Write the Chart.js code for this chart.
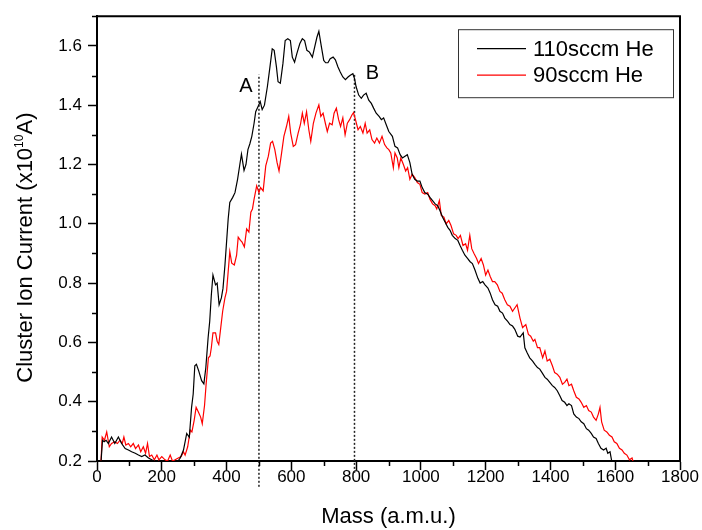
<!DOCTYPE html>
<html>
<head>
<meta charset="utf-8">
<script src="https://cdn.jsdelivr.net/npm/chart.js@4/dist/chart.umd.min.js"></script>
<style>
    body { margin: 0; background: #ffffff; }
    canvas { display: block; }
</style>
</head>
<body>
<canvas id="ion_chart" width="702" height="530"></canvas>
<script>
var massHigh = [12, 17, 22, 28, 35, 45, 55, 66, 76, 87, 97, 107, 118, 128, 138, 148, 159, 169, 180, 195,
    210, 225, 240, 250, 257, 267, 277, 285, 292, 297, 302, 307, 314, 323, 330, 336, 343, 348, 353, 358,
    366, 371, 377, 384, 389, 395, 400, 405, 410, 419, 426, 434, 441, 446, 454, 460, 466, 472, 478, 485,
    490, 497, 504, 510, 517, 526, 534, 541, 547, 554, 559, 566, 574, 581, 589, 597, 603, 610, 617, 626,
    634, 641, 648, 656, 665, 672, 679, 685, 693, 700, 706, 713, 720, 729, 736, 744, 751, 759, 767, 775,
    782, 790, 795, 800, 808, 816, 823, 831, 839, 847, 854, 862, 871, 878, 885, 893, 901, 912, 920, 928,
    936, 943, 951, 958, 966, 973, 981, 989, 997, 1004, 1012, 1021, 1028, 1036, 1044, 1052, 1059, 1067, 1075, 1083,
    1090, 1097, 1106, 1114, 1121, 1128, 1136, 1144, 1152, 1159, 1167, 1176, 1183, 1191, 1198, 1207, 1214, 1221, 1229, 1237,
    1244, 1252, 1259, 1268, 1275, 1283, 1290, 1299, 1306, 1316, 1321, 1328, 1336, 1345, 1352, 1360, 1367, 1374, 1383, 1390,
    1398, 1406, 1413, 1421, 1429, 1436, 1444, 1451, 1457, 1465, 1472, 1480, 1488, 1495, 1503, 1511, 1518, 1526, 1533, 1541,
    1548, 1556, 1564, 1572, 1577, 1584, 1590];
var ionHigh = [0.19, 0.27, 0.265, 0.27, 0.259, 0.281, 0.259, 0.281, 0.259, 0.242, 0.237, 0.231, 0.226, 0.22, 0.215, 0.22, 0.21, 0.204, 0.198, 0.196,
    0.198, 0.195, 0.197, 0.2, 0.21, 0.237, 0.293, 0.28, 0.381, 0.426, 0.521, 0.526, 0.504, 0.471, 0.46, 0.515, 0.615, 0.671, 0.76, 0.827,
    0.794, 0.8, 0.727, 0.75, 0.782, 0.86, 0.938, 1.016, 1.072, 1.089, 1.105, 1.15, 1.2, 1.235, 1.18, 1.2, 1.25, 1.27, 1.295, 1.339,
    1.378, 1.395, 1.412, 1.385, 1.4, 1.462, 1.529, 1.59, 1.585, 1.529, 1.479, 1.474, 1.54, 1.618, 1.624, 1.618, 1.562, 1.545, 1.574, 1.607,
    1.624, 1.618, 1.585, 1.579, 1.562, 1.596, 1.629, 1.649, 1.596, 1.551, 1.543, 1.543, 1.557, 1.562, 1.553, 1.529, 1.512, 1.495, 1.486, 1.495,
    1.501, 1.506, 1.49, 1.462, 1.434, 1.423, 1.434, 1.44, 1.417, 1.406, 1.39, 1.373, 1.362, 1.351, 1.357, 1.334, 1.311, 1.295, 1.261, 1.256,
    1.233, 1.222, 1.228, 1.233, 1.206, 1.167, 1.15, 1.144, 1.144, 1.122, 1.105, 1.1, 1.089, 1.078, 1.067, 1.061, 1.044, 1.022, 1.005, 0.988,
    0.978, 0.961, 0.95, 0.944, 0.927, 0.911, 0.894, 0.883, 0.872, 0.866, 0.844, 0.816, 0.8, 0.805, 0.794, 0.783, 0.766, 0.744, 0.727, 0.722,
    0.705, 0.699, 0.682, 0.671, 0.66, 0.655, 0.644, 0.621, 0.618, 0.632, 0.582, 0.565, 0.548, 0.537, 0.526, 0.515, 0.51, 0.498, 0.482, 0.476,
    0.465, 0.454, 0.448, 0.437, 0.42, 0.404, 0.398, 0.387, 0.393, 0.387, 0.359, 0.348, 0.343, 0.332, 0.326, 0.309, 0.304, 0.293, 0.281, 0.276,
    0.259, 0.243, 0.237, 0.243, 0.226, 0.231, 0.195];

var massLow = [12, 16, 23, 30, 38, 45, 55, 63, 71, 78, 83, 89, 97, 104, 112, 119, 128, 135, 143, 150,
    156, 162, 169, 177, 185, 191, 200, 210, 218, 226, 233, 241, 251, 260, 267, 272, 280, 288, 293, 300,
    306, 313, 320, 325, 332, 337, 344, 349, 353, 358, 366, 371, 376, 382, 388, 395, 400, 405, 410, 416,
    424, 431, 436, 443, 448, 455, 462, 469, 475, 480, 485, 493, 500, 505, 513, 521, 529, 536, 542, 549,
    556, 562, 570, 577, 585, 592, 598, 606, 613, 621, 628, 634, 640, 647, 654, 660, 668, 676, 685, 691,
    698, 705, 711, 718, 726, 732, 739, 746, 752, 759, 766, 773, 780, 787, 792, 798, 806, 813, 821, 828,
    834, 842, 849, 857, 864, 872, 880, 888, 895, 901, 907, 915, 920, 927, 932, 938, 946, 953, 959, 966,
    973, 981, 989, 997, 1004, 1012, 1021, 1028, 1036, 1044, 1049, 1057, 1063, 1071, 1078, 1086, 1093, 1101, 1109, 1115,
    1122, 1130, 1138, 1144, 1151, 1157, 1164, 1172, 1178, 1186, 1193, 1200, 1207, 1214, 1221, 1228, 1236, 1244, 1251, 1259,
    1267, 1275, 1283, 1290, 1297, 1306, 1314, 1324, 1332, 1339, 1347, 1352, 1360, 1367, 1376, 1383, 1390, 1398, 1406, 1413,
    1421, 1429, 1437, 1444, 1451, 1457, 1465, 1472, 1480, 1488, 1495, 1503, 1511, 1518, 1526, 1533, 1541, 1548, 1553, 1558,
    1566, 1574, 1582, 1590, 1597, 1605, 1613, 1621, 1628, 1636, 1644, 1652, 1656];
var ionLow = [0.19, 0.281, 0.27, 0.298, 0.248, 0.259, 0.265, 0.259, 0.27, 0.259, 0.281, 0.254, 0.259, 0.248, 0.259, 0.242, 0.254, 0.231, 0.248, 0.226,
    0.259, 0.215, 0.22, 0.204, 0.22, 0.204, 0.215, 0.204, 0.2, 0.22, 0.2, 0.204, 0.21, 0.215, 0.231, 0.22, 0.248, 0.304, 0.298, 0.337,
    0.381, 0.365, 0.348, 0.326, 0.387, 0.46, 0.548, 0.554, 0.582, 0.632, 0.632, 0.604, 0.593, 0.649, 0.705, 0.75, 0.772, 0.838, 0.906, 0.867,
    0.861, 0.894, 0.955, 0.944, 0.938, 0.922, 0.983, 0.972, 1.039, 1.05, 1.083, 1.128, 1.105, 1.122, 1.111, 1.195, 1.228, 1.272, 1.278, 1.25,
    1.206, 1.178, 1.239, 1.295, 1.328, 1.362, 1.306, 1.261, 1.267, 1.306, 1.334, 1.373, 1.339, 1.378, 1.317, 1.278, 1.339, 1.373, 1.401, 1.362,
    1.373, 1.339, 1.311, 1.339, 1.334, 1.373, 1.39, 1.351, 1.328, 1.357, 1.3, 1.339, 1.351, 1.367, 1.375, 1.351, 1.317, 1.328, 1.306, 1.339,
    1.306, 1.317, 1.284, 1.272, 1.289, 1.272, 1.295, 1.267, 1.256, 1.25, 1.239, 1.189, 1.239, 1.222, 1.189, 1.222, 1.2, 1.178, 1.189, 1.15,
    1.167, 1.156, 1.139, 1.133, 1.105, 1.1, 1.105, 1.083, 1.067, 1.061, 1.05, 1.078, 1.028, 1.022, 1.0, 1.011, 0.994, 0.966, 0.961, 0.95,
    0.961, 0.927, 0.933, 0.911, 0.961, 0.916, 0.9, 0.883, 0.866, 0.883, 0.861, 0.827, 0.844, 0.822, 0.805, 0.805, 0.794, 0.772, 0.766, 0.744,
    0.727, 0.722, 0.705, 0.716, 0.727, 0.682, 0.65, 0.66, 0.627, 0.621, 0.604, 0.61, 0.582, 0.582, 0.548, 0.571, 0.537, 0.543, 0.521, 0.498,
    0.493, 0.482, 0.459, 0.465, 0.476, 0.454, 0.459, 0.437, 0.415, 0.409, 0.398, 0.381, 0.387, 0.37, 0.365, 0.348, 0.337, 0.359, 0.381, 0.332,
    0.304, 0.298, 0.287, 0.281, 0.265, 0.259, 0.243, 0.237, 0.226, 0.22, 0.204, 0.21, 0.195];

var seriesNames = ['110sccm He', '90sccm He'];
var seriesColors = ['#000000', '#ff0000'];

// dotted markers A and B
var markerMass = [500, 795];
var markerLabels = ['A', 'B'];
var markerBottom = [0.113, 0.16];
var markerTop = [1.503, 1.506];

var xTicks = [0, 200, 400, 600, 800, 1000, 1200, 1400, 1600, 1800];
var yTicks = [0.2, 0.4, 0.6, 0.8, 1.0, 1.2, 1.4, 1.6];

var fontFamily = '"Liberation Sans", Arial, sans-serif';

function toPoints(xs, ys) {
    var pts = [];
    for (var i = 0; i < xs.length; i++) {
        pts.push({x: xs[i], y: ys[i]});
    }
    return pts;
}

var datasets = [
    {
        label: seriesNames[0],
        data: toPoints(massHigh, ionHigh),
        borderColor: seriesColors[0],
        borderWidth: 1.2
    },
    {
        label: seriesNames[1],
        data: toPoints(massLow, ionLow),
        borderColor: seriesColors[1],
        borderWidth: 1.2
    }
];
for (var m = 0; m < markerMass.length; m++) {
    datasets.push({
        label: markerLabels[m],
        data: [{x: markerMass[m], y: markerBottom[m]}, {x: markerMass[m], y: markerTop[m]}],
        borderColor: '#222222',
        borderWidth: 1.5,
        borderDash: [2, 2],
        clip: false
    });
}

var decorPlugin = {
    id: 'decor',
    afterDraw: function (chart) {
        var ctx = chart.ctx;
        var area = chart.chartArea;
        var xs = chart.scales.x;
        var ys = chart.scales.y;
        var i, p;
        ctx.save();

        // top and right frame
        ctx.strokeStyle = '#000000';
        ctx.lineWidth = 2;
        ctx.beginPath();
        ctx.moveTo(area.left, area.top);
        ctx.lineTo(area.right, area.top);
        ctx.lineTo(area.right, area.bottom);
        ctx.stroke();

        // minor ticks
        ctx.lineWidth = 1.5;
        ctx.beginPath();
        for (i = 0; i < xTicks.length - 1; i++) {
            p = Math.round(xs.getPixelForValue((xTicks[i] + xTicks[i + 1]) / 2)) + 0.5;
            ctx.moveTo(p, area.bottom);
            ctx.lineTo(p, area.bottom + 5);
        }
        for (i = 0; i < yTicks.length; i++) {
            p = Math.round(ys.getPixelForValue(yTicks[i] + 0.1)) + 0.5;
            ctx.moveTo(area.left, p);
            ctx.lineTo(area.left - 5, p);
        }
        ctx.stroke();

        // A / B labels
        ctx.fillStyle = '#000000';
        ctx.font = '20px ' + fontFamily;
        ctx.textBaseline = 'middle';
        ctx.textAlign = 'center';
        ctx.fillText(markerLabels[0], xs.getPixelForValue(markerMass[0]) - 13, ys.getPixelForValue(markerTop[0]) + 12);
        ctx.fillText(markerLabels[1], xs.getPixelForValue(markerMass[1]) + 18, ys.getPixelForValue(markerTop[1]));

        // legend
        var bx = area.right - 222;
        var by = area.top + 13;
        ctx.lineWidth = 1;
        ctx.strokeStyle = '#333333';
        ctx.strokeRect(bx + 0.5, by + 0.5, 215, 68);
        ctx.font = '22px ' + fontFamily;
        ctx.textAlign = 'left';
        for (i = 0; i < seriesNames.length; i++) {
            var ly = by + 19.5 + i * 26.5;
            ctx.strokeStyle = seriesColors[i];
            ctx.lineWidth = 1.2;
            ctx.beginPath();
            ctx.moveTo(bx + 19, ly);
            ctx.lineTo(bx + 68, ly);
            ctx.stroke();
            ctx.fillText(seriesNames[i], bx + 75, ly + 1);
        }

        // y axis title with superscript
        var t1 = 'Cluster Ion Current (x10';
        var t2 = '10';
        var t3 = 'A)';
        ctx.translate(25.5, (area.top + area.bottom) / 2 + 9);
        ctx.rotate(-Math.PI / 2);
        ctx.font = '22px ' + fontFamily;
        var w1 = ctx.measureText(t1).width;
        var w3 = ctx.measureText(t3).width;
        ctx.font = '12px ' + fontFamily;
        var w2 = ctx.measureText(t2).width;
        var sx = -(w1 + w2 + w3) / 2;
        ctx.font = '22px ' + fontFamily;
        ctx.fillText(t1, sx, 0);
        ctx.font = '12px ' + fontFamily;
        ctx.fillText(t2, sx + w1, -6);
        ctx.font = '22px ' + fontFamily;
        ctx.fillText(t3, sx + w1 + w2, 0);

        ctx.restore();
    }
};

var chart = new Chart(document.getElementById('ion_chart'), {
    type: 'line',
    data: {datasets: datasets},
    plugins: [decorPlugin],
    options: {
        responsive: false,
        animation: false,
        devicePixelRatio: 1,
        layout: {padding: {top: 13, right: 22, left: 0, bottom: 0}},
        elements: {point: {radius: 0}, line: {tension: 0, fill: false}},
        plugins: {legend: {display: false}, tooltip: {enabled: false}},
        scales: {
            x: {
                type: 'linear',
                min: 0,
                max: 1800,
                afterFit: function (scale) { scale.height = 69; },
                afterBuildTicks: function (scale) {
                    scale.ticks = xTicks.map(function (v) { return {value: v}; });
                },
                ticks: {
                    autoSkip: false,
                    maxRotation: 0,
                    padding: -1,
                    color: '#000000',
                    font: {family: fontFamily, size: 17, lineHeight: 1},
                    callback: function (v) { return String(v); }
                },
                grid: {drawOnChartArea: false, tickLength: 9, tickColor: '#000000', tickWidth: 1.5},
                border: {color: '#000000', width: 2},
                title: {
                    display: true,
                    text: 'Mass (a.m.u.)',
                    color: '#000000',
                    font: {family: fontFamily, size: 22, lineHeight: 1},
                    padding: {top: 0, bottom: 2}
                }
            },
            y: {
                type: 'linear',
                min: 0.2,
                max: 1.7,
                afterFit: function (scale) { scale.width = 97; },
                afterBuildTicks: function (scale) {
                    scale.ticks = yTicks.map(function (v) { return {value: v}; });
                },
                ticks: {
                    autoSkip: false,
                    padding: 6,
                    color: '#000000',
                    font: {family: fontFamily, size: 17},
                    callback: function (v) { return Number(v).toFixed(1); }
                },
                grid: {drawOnChartArea: false, tickLength: 9, tickColor: '#000000', tickWidth: 1.5},
                border: {color: '#000000', width: 2}
            }
        }
    }
});
</script>
</body>
</html>
